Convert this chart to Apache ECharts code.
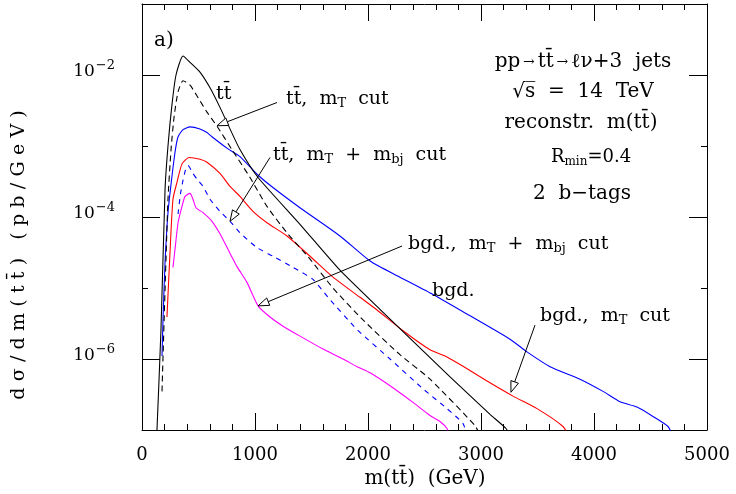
<!DOCTYPE html>
<html><head><meta charset="utf-8">
<script src="https://cdn.jsdelivr.net/npm/echarts@6/dist/echarts.min.js"></script>
<style>html,body{margin:0;padding:0;background:#fff}#c{width:736px;height:494px}</style>
</head><body><div id="c"></div>
<script>
// m(tt) in GeV, dsigma/dm in pb/GeV
const ttbar = [[130,8e-8],[168,2.6e-6],[204,2.45e-4],[230,1e-3],[265,3.8e-3],[301,1e-2],[363,1.85e-2],[425,1.51e-2],[513,1.1e-2],[602,6.6e-3],[690,3.5e-3],[761,2.0e-3],[867,8.9e-4],[1027,3.6e-4],[1398,7.9e-5],[1752,1.78e-5],[2106,5.0e-6],[2487,1.3e-6],[2726,5.6e-7],[3080,1.66e-7],[3221,1.05e-7],[3260,8e-8]];
const ttbarMT = [[177,3.5e-7],[204,9.5e-6],[230,1.78e-4],[257,8.9e-4],[283,2.5e-3],[319,5.8e-3],[363,8.3e-3],[425,7.2e-3],[496,4.8e-3],[575,3.0e-3],[664,1.9e-3],[796,8.9e-4],[956,3.6e-4],[1106,1.41e-4],[1283,6.0e-5],[1487,2.55e-5],[1690,1.0e-5],[1956,3.55e-6],[2283,1.15e-6],[2549,5.2e-7],[2947,1.15e-7],[3000,8e-8]];
const ttbarMTmbj = [[319,1.1e-4],[340,2.1e-4],[363,3.3e-4],[385,4.6e-4],[407,5.3e-4],[451,4.1e-4],[487,3.4e-4],[540,2.7e-4],[602,1.78e-4],[690,1.2e-4],[779,8.7e-5],[867,6.0e-5],[1018,3.7e-5],[1159,2.8e-5],[1336,1.95e-5],[1513,1.32e-5],[1646,7.4e-6],[1903,2.6e-6],[2195,1.0e-6],[2487,3.8e-7],[2699,2.0e-7],[2841,1.23e-7],[2880,8e-8]];
const bgd = [[177,1.1e-6],[186,3.6e-6],[204,2.3e-5],[230,1.15e-4],[257,2.9e-4],[292,8.1e-4],[319,1.35e-3],[363,1.7e-3],[425,1.86e-3],[513,1.74e-3],[575,1.55e-3],[619,1.35e-3],[761,9.1e-4],[867,7.1e-4],[1018,4.0e-4],[1159,2.6e-4],[1398,1.35e-4],[1752,5.4e-5],[2018,2.4e-5],[2283,1.42e-5],[2575,8.1e-6],[2876,4.3e-6],[3257,1.9e-6],[3407,1.26e-6],[3611,7.8e-7],[3876,5.2e-7],[4080,3.5e-7],[4230,2.5e-7],[4381,2.1e-7],[4522,1.55e-7],[4655,1.12e-7],[4700,8e-8]];
const bgdMT = [[221,3.9e-6],[248,3.2e-5],[274,1.78e-4],[310,3.1e-4],[354,5.6e-4],[416,6.9e-4],[513,6.5e-4],[575,5.9e-4],[690,4.1e-4],[779,2.7e-4],[867,1.95e-4],[982,1.2e-4],[1106,8.3e-5],[1283,5.4e-5],[1487,2.8e-5],[1690,1.42e-5],[1929,7.4e-6],[2080,4.9e-6],[2310,2.5e-6],[2549,1.35e-6],[2699,1.07e-6],[2841,7.9e-7],[3035,5.1e-7],[3283,3.0e-7],[3496,2.0e-7],[3726,1.12e-7],[3780,8e-8]];
const bgdMTmbj = [[274,1.95e-5],[292,3.5e-5],[319,8.3e-5],[354,1.41e-4],[381,1.95e-4],[425,2.15e-4],[451,1.78e-4],[478,1.35e-4],[540,1.15e-4],[619,8.7e-5],[690,5.8e-5],[761,3.5e-5],[841,2.0e-5],[929,1.2e-5],[1027,5.6e-6],[1133,3.9e-6],[1248,2.9e-6],[1398,2.1e-6],[1602,1.38e-6],[1779,1.0e-6],[1903,7.8e-7],[2018,6.4e-7],[2195,4.2e-7],[2398,2.45e-7],[2549,1.6e-7],[2637,1.32e-7],[2699,1.05e-7],[2720,8e-8]];

// arrows: [tail, tip] in data coordinates
const arrows = [
  [[1195,4.1e-3],[664,1.93e-3]],
  [[1133,6.9e-4],[779,8.7e-5]],
  [[2301,3.9e-5],[1027,5.6e-6]],
  [[3478,3.0e-6],[3265,3.4e-7]]
];

const FONT = 'DejaVu Serif';
const OV = '\u0304';
const TTB = 't' + 't' + OV;

const chart = echarts.init(document.getElementById('c'), null, {renderer:'canvas'});
const L = 142, R = 29, T = 4, B = 64;
const plotH = 494 - T - B;
const dec = plotH / 6;

function line(name, data, color, dash) {
  return {type:'line', name, data, xAxisIndex:0, yAxisIndex:0, symbol:'none', smooth:0.2,
    lineStyle:{color, width:1.1, type: dash || 'solid'}, silent:true, animation:false};
}

const axisX = (pos, labels) => ({
  type:'value', gridIndex:0, position:pos, min:0, max:5000, interval:1000,
  axisLine:{show:true, onZero:false, lineStyle:{color:'#000', width:1}},
  axisTick:{show:true, inside:true, length:17, lineStyle:{color:'#000'}},
  minorTick:{show:true, splitNumber:5, length:6, lineStyle:{color:'#000'}},
  splitLine:{show:false}, minorSplitLine:{show:false},
  axisLabel:{show:labels, margin:16, fontFamily:FONT, fontSize:18, color:'#000', formatter: v => String(v)}
});
const axisYshort = (pos) => ({
  type:'log', gridIndex:0, position:pos, min:1e-7, max:1e-1, interval:1, logBase:10,
  axisLine:{show:true, onZero:false, lineStyle:{color:'#000'}},
  axisTick:{show:true, inside:true, length:6, lineStyle:{color:'#000'}},
  splitLine:{show:false}, axisLabel:{show:false}
});
const axisYlong = (pos, labels) => ({
  type:'log', gridIndex:1, position:pos, min:1e-6, max:1e-2, interval:2, logBase:10,
  axisLine:{show:false},
  axisTick:{show:true, inside:true, length:18, lineStyle:{color:'#000'}},
  splitLine:{show:false},
  axisLabel:{show:labels, margin:27, fontFamily:FONT, fontSize:17, color:'#000', padding:[0,0,6,0],
    formatter: v => '{b|10}{s|\u2212' + (-Math.round(Math.log10(v))) + '}',
    rich:{b:{fontFamily:FONT, fontSize:17, color:'#000'},
          s:{fontFamily:FONT, fontSize:13, color:'#000', padding:[0,0,12,1]}}}
});

const option = {
  animation:false,
  backgroundColor:'#fff',
  grid:[
    {left:L, right:R, top:T, bottom:B, show:false},
    {left:L, right:R, top:T+dec, bottom:B+dec, show:false}
  ],
  xAxis:[axisX('bottom', true), axisX('top', false),
    {type:'value', gridIndex:1, min:0, max:5000, show:false}],
  yAxis:[axisYshort('left'), axisYshort('right'), axisYlong('left', true), axisYlong('right', false)],
  series:[
    line('bgd.', bgd, '#0000ff'),
    line('bgd., mT cut', bgdMT, '#ff0000'),
    line('bgd., mT + mbj cut', bgdMTmbj, '#ff00ff'),
    line('tt, mT + mbj cut', ttbarMTmbj, '#0000ff', [5,5]),
    line('tt, mT cut', ttbarMT, '#000000', [6,4]),
    line('tt', ttbar, '#000000')
  ]
};
chart.setOption(option);

function txt(x, y, text, size, align, extra) {
  const s = size || 19;
  return Object.assign({type:'text', x, y, silent:true, z:10,
    style:{text, fontFamily:FONT, fontSize:s, fill:'#000',
      align:align||'left', textAlign:align||'left', verticalAlign:'middle', textVerticalAlign:'middle',
      rich:{
        sub:{fontFamily:FONT, fontSize:Math.round(s*0.68), padding:[Math.round(s*0.5),0,0,0], fill:'#000'},
        ar:{fontFamily:FONT, fontSize:Math.round(s*0.72), fill:'#000'}
      }}}, extra||{});
}
function tracked(str, sp) {
  const chars = Array.from(str);
  let out = '';
  chars.forEach((c, i) => {
    out += c;
    const next = chars[i+1];
    if (next && next !== OV && c !== ' ' && next !== ' ') out += sp;
  });
  return out;
}

const g = [];
arrows.forEach(([tail, tip]) => {
  const p1 = chart.convertToPixel({xAxisIndex:0, yAxisIndex:0}, tail);
  const p2 = chart.convertToPixel({xAxisIndex:0, yAxisIndex:0}, tip);
  const dx = p2[0]-p1[0], dy = p2[1]-p1[1], len = Math.hypot(dx,dy);
  const ux = dx/len, uy = dy/len, hl = 11, hw = 4;
  const bx = p2[0]-ux*hl, by = p2[1]-uy*hl;
  g.push({type:'line', silent:true, z:10, shape:{x1:p1[0], y1:p1[1], x2:bx, y2:by}, style:{stroke:'#000', lineWidth:1}});
  g.push({type:'polygon', silent:true, z:10, shape:{points:[[p2[0],p2[1]],[bx-uy*hw, by+ux*hw],[bx+uy*hw, by-ux*hw]]},
    style:{fill:'#fff', stroke:'#000', lineWidth:1}});
});

g.push(txt(154, 41, 'a)', 20));
g.push(txt(216, 94, TTB, 19));
g.push(txt(286, 99, TTB + ',  m{sub|T}  cut', 19));
g.push(txt(273, 155, TTB + ',  m{sub|T}  +  m{sub|bj}  cut', 19));
g.push(txt(408, 244, 'bgd.,  m{sub|T}  +  m{sub|bj}  cut', 19));
g.push(txt(432, 291, 'bgd.', 19));
g.push(txt(540, 316, 'bgd.,  m{sub|T}  cut', 19));

g.push(txt(583, 62, 'pp{ar|\u2009\u2192\u2009}' + TTB + '{ar|\u2009\u2192\u2009}\u2113\u03bd+3  jets', 20, 'center'));
g.push(txt(583, 92, '\u221As\u0305  =  14  TeV', 20, 'center'));
g.push(txt(581, 123, 'reconstr.  m(' + TTB + ')', 20, 'center'));
g.push(txt(591, 157, 'R{sub|min}=0.4', 18, 'center'));
g.push(txt(582, 194, '2  b\u2212tags', 20, 'center'));

g.push(txt(425, 479, 'm(' + TTB + ')  (GeV)', 20, 'center'));
g.push(txt(19, 255, tracked('d\u03c3/dm(' + TTB + ')', '\u2004') + '   ' + tracked('(pb/GeV)', '\u2004'), 19, 'center', {rotation: Math.PI/2}));

chart.setOption({graphic:{elements:g}});
</script>
</body></html>
